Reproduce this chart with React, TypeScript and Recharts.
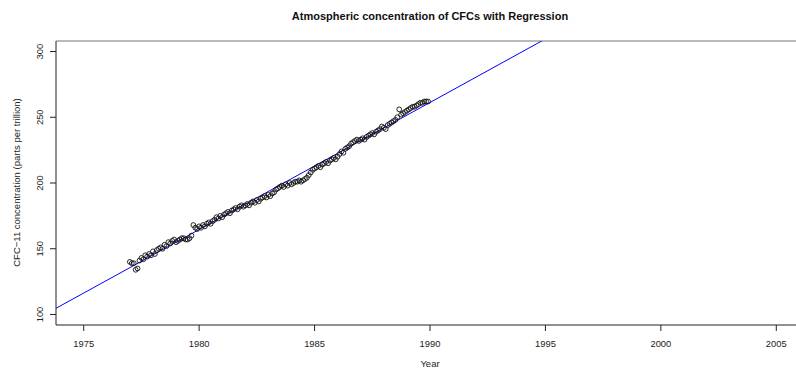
import React from "react";
import { ScatterChart, Scatter, XAxis, YAxis, ReferenceLine } from "recharts";

const FONT = "'Liberation Sans', Arial, Helvetica, sans-serif";

// Monthly CFC-11 readings (parts per trillion), one row per year, Jan..Dec
const START_YEAR = 1977;
const CFC11_1977 = [140, 139, 139, 134, 135, 141, 143, 142, 145, 144, 146, 145];
const CFC11_1978 = [148, 146, 149, 150, 151, 150, 153, 152, 155, 154, 156, 157];
const CFC11_1979 = [155, 156, 157, 158, 158, 157, 157, 158, 160, 168, 166, 165];
const CFC11_1980 = [167, 166, 168, 167, 169, 170, 169, 171, 172, 174, 173, 175];
const CFC11_1981 = [174, 176, 177, 178, 177, 179, 180, 181, 180, 182, 183, 182];
const CFC11_1982 = [183, 184, 183, 185, 186, 185, 187, 186, 188, 189, 190, 189];
const CFC11_1983 = [191, 190, 192, 193, 195, 196, 197, 198, 197, 199, 198, 200];
const CFC11_1984 = [199, 200, 201, 201, 202, 201, 202, 203, 204, 206, 208, 210];
const CFC11_1985 = [211, 212, 213, 212, 214, 215, 216, 215, 217, 218, 219, 218];
const CFC11_1986 = [220, 222, 224, 223, 226, 227, 228, 230, 231, 232, 233, 232];
const CFC11_1987 = [233, 234, 233, 235, 236, 237, 238, 237, 239, 240, 241, 243];
const CFC11_1988 = [242, 241, 244, 245, 246, 247, 248, 250, 256, 252, 253, 254];
const CFC11_1989 = [255, 256, 257, 258, 258, 259, 260, 261, 261, 262, 262, 262];

const YEARLY_ROWS = [
  CFC11_1977, CFC11_1978, CFC11_1979, CFC11_1980, CFC11_1981, CFC11_1982, CFC11_1983,
  CFC11_1984, CFC11_1985, CFC11_1986, CFC11_1987, CFC11_1988, CFC11_1989,
];

// Fitted linear trend: cfc = FIT_AT_1975 + FIT_SLOPE * (year - 1975)
const FIT_AT_1975 = 116.3;
const FIT_SLOPE = 9.663;

const X_DOMAIN: [number, number] = [1973.8, 2006.2];
const Y_DOMAIN: [number, number] = [92, 308];
const X_TICKS = [1975, 1980, 1985, 1990, 1995, 2000, 2005];
const Y_TICKS = [100, 150, 200, 250, 300];

const points = YEARLY_ROWS.flatMap((row, yi) =>
  row.map((v, mi) => ({ year: START_YEAR + yi + mi / 12, cfc: v }))
);

const fitAt = (yr: number) => FIT_AT_1975 + FIT_SLOPE * (yr - 1975);
const fitSegment = [
  { x: X_DOMAIN[0], y: fitAt(X_DOMAIN[0]) },
  { x: X_DOMAIN[1], y: fitAt(X_DOMAIN[1]) },
];

const OpenCircle = (props: any) => (
  <circle cx={props.cx} cy={props.cy} r={2.4} fill="none" stroke="#111" strokeWidth={0.9} />
);

const YTick = (props: any) => {
  const { y, payload } = props;
  return (
    <text
      transform={`translate(43, ${y}) rotate(-90)`}
      textAnchor="middle"
      fontSize={9.4}
      fill="#222"
      fontFamily={FONT}
    >
      {payload.value}
    </text>
  );
};

export default function App() {
  return (
    <div
      style={{
        position: "absolute",
        left: 0,
        top: 0,
        width: 796,
        height: 369,
        overflow: "hidden",
        background: "#fff",
      }}
    >
      <ScatterChart width={814} height={369} margin={{ top: 41, right: 10, bottom: 0, left: 0 }}>
        <XAxis
          type="number"
          dataKey="year"
          domain={X_DOMAIN}
          ticks={X_TICKS}
          interval={0}
          allowDataOverflow
          height={44}
          tickSize={6}
          tickMargin={9}
          axisLine={{ stroke: "#222" }}
          tickLine={{ stroke: "#222" }}
          tick={{ fontSize: 9.4, fill: "#222", fontFamily: FONT }}
        />
        <YAxis
          type="number"
          dataKey="cfc"
          domain={Y_DOMAIN}
          ticks={Y_TICKS}
          interval={0}
          allowDataOverflow
          width={56}
          tickSize={6}
          axisLine={{ stroke: "#222" }}
          tickLine={{ stroke: "#222" }}
          tick={<YTick />}
        />
        <ReferenceLine y={Y_DOMAIN[1]} stroke="#777" />
        <Scatter data={points} shape={OpenCircle} isAnimationActive={false} />
        <ReferenceLine segment={fitSegment} stroke="#0000ff" strokeWidth={1} ifOverflow="hidden" />
      </ScatterChart>
      <svg
        width={796}
        height={369}
        style={{ position: "absolute", left: 0, top: 0, pointerEvents: "none" }}
      >
        <text x={430} y={20} textAnchor="middle" fontSize={11} fontWeight="bold" fill="#111" fontFamily={FONT}>
          Atmospheric concentration of CFCs with Regression
        </text>
        <text
          transform="translate(20, 182.5) rotate(-90)"
          textAnchor="middle"
          fontSize={9.5}
          fill="#222"
          fontFamily={FONT}
        >
          CFC−11 concentration (parts per trillion)
        </text>
        <text x={430} y={367} textAnchor="middle" fontSize={9.5} fill="#222" fontFamily={FONT}>
          Year
        </text>
      </svg>
    </div>
  );
}
